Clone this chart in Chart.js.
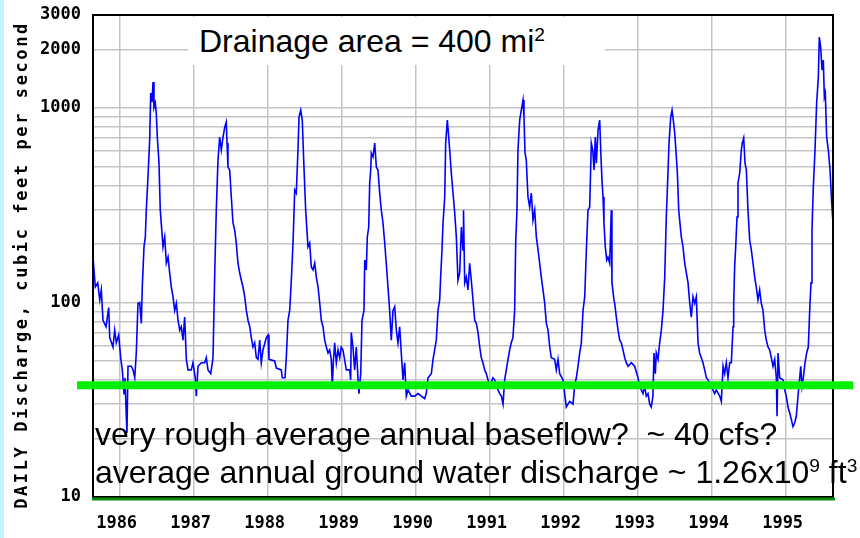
<!DOCTYPE html>
<html>
<head>
<meta charset="utf-8">
<script src="https://cdn.jsdelivr.net/npm/chart.js@4.4.0/dist/chart.umd.min.js"></script>
<style>
html,body{margin:0;padding:0;background:#fff;}
#wrap{position:relative;width:860px;height:538px;overflow:hidden;background:#fff;}
#c{position:absolute;left:0;top:0;}
.strip{position:absolute;left:0;top:0;width:4px;height:538px;background:#c4f4ff;}
.ytitle{position:absolute;left:21px;top:265px;transform:translate(-50%,-50%) rotate(-90deg);font-family:"DejaVu Sans Mono",monospace;font-weight:bold;font-size:17px;letter-spacing:2.6px;white-space:nowrap;color:#000;}
.box{position:absolute;left:188px;top:17px;width:417px;height:48px;background:#fff;}
.note{position:absolute;font-family:"Liberation Sans",Arial,sans-serif;font-size:32px;line-height:32px;white-space:pre;color:#000;}
.note sup{font-size:60%;vertical-align:0.55em;line-height:0;}
</style>
</head>
<body>
<div id="wrap">
  <canvas id="c" width="860" height="538"></canvas>
  <div class="strip"></div>
  <div class="ytitle">DAILY Discharge, cubic feet per second</div>
  <div class="box"></div>
  <div class="note" style="left:199px;top:25px;">Drainage area = 400 mi<sup>2</sup></div>
  <div class="note" style="left:95px;top:418px;">very rough average annual baseflow?  ~ 40 cfs?</div>
  <div class="note" style="left:95px;top:456px;">average annual ground water discharge ~ 1.26x10<sup>9</sup> ft<sup>3</sup></div>
</div>
<script>
// ---- data (decimal year, daily discharge in cfs) ----
const years = [
1985.640,1985.671,1985.704,1985.731,1985.752,1985.775,1985.816,1985.852,1985.866,1985.910,1985.933,1985.955,1985.987,
1986.014,1986.036,1986.059,1986.072,1986.090,1986.099,1986.113,1986.158,1986.181,1986.204,1986.225,1986.248,1986.271,1986.293,1986.306,1986.329,1986.347,1986.360,1986.383,1986.406,1986.420,1986.437,1986.451,1986.464,1986.482,1986.495,1986.509,1986.532,1986.549,1986.586,1986.609,1986.631,1986.654,1986.676,1986.698,1986.721,1986.744,1986.766,1986.789,1986.812,1986.833,1986.856,1986.879,1986.901,1986.924,1986.968,1986.991,
1987.022,1987.036,1987.059,1987.104,1987.149,1987.171,1987.194,1987.231,1987.262,1987.284,1987.306,1987.329,1987.352,1987.374,1987.397,1987.420,1987.441,1987.451,1987.464,1987.487,1987.509,1987.532,1987.555,1987.576,1987.599,1987.622,1987.644,1987.667,1987.690,1987.712,1987.735,1987.758,1987.779,1987.802,1987.825,1987.847,1987.870,1987.893,1987.914,1987.937,1987.982,
1988.005,1988.018,1988.095,1988.117,1988.184,1988.198,1988.235,1988.252,1988.275,1988.298,1988.320,1988.343,1988.366,1988.387,1988.410,1988.424,1988.447,1988.468,1988.487,1988.514,1988.545,1988.568,1988.590,1988.613,1988.636,1988.658,1988.681,1988.704,1988.725,1988.748,1988.771,1988.793,1988.816,1988.838,1988.860,1988.874,1988.887,1988.906,1988.928,1988.951,1988.974,1988.995,
1989.018,1989.063,1989.109,1989.122,1989.130,1989.153,1989.176,1989.198,1989.221,1989.234,1989.258,1989.275,1989.302,1989.312,1989.333,1989.347,1989.366,1989.379,1989.393,1989.401,1989.424,1989.447,1989.469,1989.491,1989.514,1989.536,1989.559,1989.582,1989.603,1989.626,1989.649,1989.671,1989.694,1989.717,1989.739,1989.761,1989.784,1989.806,1989.829,1989.852,1989.874,1989.897,1989.941,1989.987,
1990.032,1990.077,1990.122,1990.144,1990.167,1990.212,1990.235,1990.257,1990.279,1990.302,1990.325,1990.338,1990.356,1990.370,1990.393,1990.406,1990.428,1990.447,1990.460,1990.482,1990.505,1990.528,1990.550,1990.572,1990.595,1990.618,1990.640,1990.647,1990.663,1990.685,1990.707,1990.730,1990.752,1990.775,1990.798,1990.820,1990.843,1990.866,1990.887,1990.910,1990.933,1990.955,1990.978,
1991.001,1991.045,1991.068,1991.090,1991.113,1991.136,1991.158,1991.181,1991.203,1991.225,1991.248,1991.271,1991.292,1991.315,1991.338,1991.352,1991.369,1991.383,1991.406,1991.428,1991.451,1991.464,1991.478,1991.495,1991.518,1991.541,1991.563,1991.586,1991.609,1991.631,1991.654,1991.676,1991.698,1991.721,1991.744,1991.766,1991.789,1991.812,1991.833,1991.879,1991.901,1991.924,1991.947,1991.991,
1992.014,1992.036,1992.082,1992.127,1992.150,1992.172,1992.194,1992.217,1992.239,1992.262,1992.285,1992.307,1992.329,1992.352,1992.374,1992.393,1992.411,1992.428,1992.442,1992.465,1992.487,1992.501,1992.518,1992.532,1992.545,1992.563,1992.582,1992.599,1992.622,1992.644,1992.653,1992.680,1992.690,1992.712,1992.735,1992.758,1992.779,1992.802,1992.825,1992.847,1992.870,1992.914,1992.960,
1993.005,1993.028,1993.072,1993.095,1993.117,1993.140,1993.163,1993.184,1993.207,1993.221,1993.239,1993.252,1993.275,1993.298,1993.320,1993.343,1993.366,1993.387,1993.410,1993.424,1993.447,1993.465,1993.482,1993.501,1993.523,1993.537,1993.555,1993.590,1993.613,1993.636,1993.658,1993.681,1993.704,1993.725,1993.748,1993.771,1993.793,1993.816,1993.838,1993.860,1993.883,1993.906,1993.928,1993.951,1993.995,
1994.041,1994.063,1994.109,1994.131,1994.154,1994.176,1994.198,1994.221,1994.244,1994.266,1994.289,1994.298,1994.311,1994.325,1994.343,1994.356,1994.379,1994.401,1994.414,1994.433,1994.451,1994.469,1994.491,1994.514,1994.536,1994.559,1994.582,1994.603,1994.626,1994.649,1994.671,1994.694,1994.717,1994.739,1994.762,1994.784,1994.806,1994.829,1994.852,1994.874,1994.884,1994.897,1994.919,1994.964,1994.987,
1995.009,1995.032,1995.055,1995.077,1995.099,1995.122,1995.144,1995.167,1995.190,1995.204,1995.221,1995.239,1995.262,1995.284,1995.306,1995.329,1995.343,1995.356,1995.374,1995.397,1995.419,1995.442,1995.455,1995.473,1995.492,1995.509,1995.523,1995.536,1995.554,1995.577,1995.600,1995.622,1995.640
];
const flows = [
171,120,126,103,116,81,75,94,66,59,72,62,68,
52,45,34,41,26,21.3,47,47,45,41,55,99,100,78,120,193,217,298,441,683,1191,1070,1357,1003,1059,940,708,520,298,193,217,159,171,142,120,107,91,99,81,72,75,64,84,51,45,45,49,
41,33,47,49,49,52,45,43,52,135,298,539,708,607,708,796,845,659,496,479,348,256,235,202,159,142,130,120,107,91,81,75,66,59,62,52,51,64,49,57,66,
68,51,50,46,45,41,41,52,81,91,130,202,378,365,607,897,974,865,539,298,193,202,152,147,159,135,120,99,81,75,64,59,55,57,51,37,49,62,49,57,52,59,
57,45,45,40,70,59,45,59,41,34,43,81,91,165,147,217,244,411,479,586,559,659,496,479,365,298,256,202,159,120,91,64,91,95,72,62,75,55,40,49,33,35.5,33,33,
34,33,32,34,41,43,51,57,64,91,103,135,186,256,348,659,865,708,607,462,365,288,217,130,142,244,186,298,126,135,116,159,130,103,81,78,70,59,52,49,45,43,40,
37,41,40,37,35.5,34,33,30,40,45,51,57,62,66,91,202,298,607,865,974,1097,897,586,539,348,309,365,265,298,217,186,159,135,116,99,78,72,59,52,51,45,51,43,40,
34,29,31,30,38,41,47,55,62,91,107,186,298,309,659,607,479,708,520,769,865,607,425,348,256,193,165,171,159,298,126,103,99,84,72,64,62,57,52,49,47,49,47,
41,37,34,37,33,34,30,29,33,55,43,55,51,62,72,91,135,275,462,659,897,974,865,742,559,462,298,217,193,159,142,126,99,84,107,99,107,62,55,52,49,45,41,40,37,
34,35.5,33,31,47,43,49,41,49,49,75,99,152,193,275,411,462,607,659,700,520,479,298,209,186,159,135,120,103,116,99,91,72,64,59,57,52,47,51,41,26,55,41,40,35.5,
33,29,27,25,23,24,26,33,41,47,37,41,49,55,59,99,126,235,392,607,1059,1439,2312,2053,1564,1761,1136,1191,708,607,479,324,256
];
const yearTicks = [1986,1987,1988,1989,1990,1991,1992,1993,1994,1995];
const yGridTicks = [10,20,30,40,50,60,70,80,90,100,200,300,400,500,600,700,800,900,1000,2000,3000];
const yLabelTicks = [10,100,1000,2000,3000];
const baseflow = 37.5;
const xMin = 1985.64, xMax = 1995.64;
const yMin = 10, yMax = 3000;

const overlay = {
  id: 'overlay',
  afterDatasetsDraw(chart) {
    const ctx = chart.ctx, a = chart.chartArea, ys = chart.scales.y;
    ctx.save();
    ctx.strokeStyle = '#000';
    ctx.lineWidth = 2;
    ctx.strokeRect(a.left, a.top, a.right - a.left, a.bottom - a.top);
    ctx.strokeStyle = '#0b8c0b';
    ctx.lineWidth = 3;
    ctx.beginPath();
    ctx.moveTo(a.left - 1, a.bottom + 2);
    ctx.lineTo(a.right + 2, a.bottom + 2);
    ctx.stroke();
    const yb = ys.getPixelForValue(baseflow);
    ctx.strokeStyle = '#00f000';
    ctx.lineWidth = 8;
    ctx.beginPath();
    ctx.moveTo(a.left - 16, yb);
    ctx.lineTo(a.right + 20, yb);
    ctx.stroke();
    ctx.restore();
  }
};

const tickFont = {family: 'DejaVu Sans Mono', weight: 'bold', size: 17};

new Chart(document.getElementById('c'), {
  type: 'line',
  data: {
    datasets: [{
      data: years.map((x, i) => ({x: x, y: flows[i]})),
      borderColor: '#0000ff',
      borderWidth: 1.6,
      pointRadius: 0,
      pointHoverRadius: 0,
      tension: 0,
      fill: false
    }]
  },
  options: {
    responsive: false,
    animation: false,
    devicePixelRatio: 1,
    layout: {autoPadding: false, padding: {top: 15, right: 27, left: 0, bottom: 0}},
    plugins: {legend: {display: false}, tooltip: {enabled: false}, title: {display: false}},
    scales: {
      x: {
        type: 'linear', min: xMin, max: xMax,
        afterBuildTicks(s) { s.ticks = yearTicks.map(v => ({value: v})); },
        afterFit(s) { s.height = 41; s.paddingLeft = 0; s.paddingRight = 0; },
        grid: {color: '#c4c4c4', lineWidth: 1.5, drawTicks: false},
        border: {display: false},
        ticks: {autoSkip: false, maxRotation: 0, minRotation: 0, padding: 16, labelOffset: -3, color: '#000', font: tickFont,
                callback: v => String(v)}
      },
      y: {
        type: 'logarithmic', min: yMin, max: yMax,
        afterBuildTicks(s) { s.ticks = yGridTicks.map(v => ({value: v})); },
        afterFit(s) { s.width = 93; s.paddingTop = 0; s.paddingBottom = 0; },
        grid: {color: '#c4c4c4', lineWidth: 1.5, drawTicks: false},
        border: {display: false},
        ticks: {autoSkip: false, padding: 12, color: '#000', font: tickFont,
                callback: v => yLabelTicks.includes(v) ? String(v) : ''}
      }
    }
  },
  plugins: [overlay]
});
</script>
</body>
</html>
